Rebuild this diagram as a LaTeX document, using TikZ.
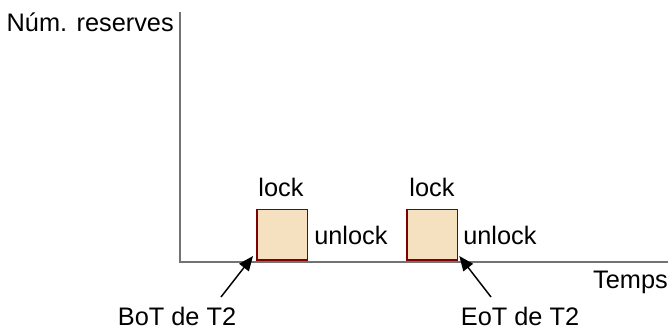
\documentclass[tikz,border=0pt]{standalone}
\usepackage{fontspec}
\setmainfont{Liberation Sans}
\usetikzlibrary{arrows.meta}
\begin{document}
\begin{tikzpicture}[x=0.75pt,y=-0.75pt,
  axis/.style={draw=black!55,line width=1.5pt},
  resbox/.style={draw=red!50!black,fill={rgb,255:red,245;green,224;blue,192},line width=1.2pt,minimum width=38pt,minimum height=38pt,inner sep=0pt},
  lbl/.style={font=\fontsize{19}{21}\selectfont,inner sep=0pt},
  arr/.style={draw=black,line width=1.1pt,-{Triangle[length=11pt,width=9pt]}}]
\useasboundingbox (0,0) rectangle (672,329);
\coordinate (top) at (180,12);
\coordinate (origin) at (180,262);
\coordinate (xend) at (668,262);
\node[resbox,anchor=south west] (b1) at (256,261) {};
\node[resbox,anchor=south west] (b2) at (406,261) {};
\draw[axis] (top) -- (origin) -- (xend);
\node[lbl,anchor=east] (ylab) at (174,22) {Núm. reserves};
\node[lbl,anchor=east] (xlab) at (668,282) {Temps};
\node[lbl] (l1) at (281,187) {lock};
\node[lbl] (l2) at (432,187) {lock};
\node[lbl,anchor=west] (u1) at (314,235) {unlock};
\node[lbl,anchor=west] (u2) at (463,235) {unlock};
\node[lbl] (bot) at (177,316) {BoT de T2};
\node[lbl] (eot) at (520,316) {EoT de T2};
\coordinate (bs) at (221,297);
\coordinate (es) at (491,297);
\draw[arr] (bs) -- ([shift={(-3,-5)}]b1.south west);
\draw[arr] (es) -- ([shift={(1,-5)}]b2.south east);
\end{tikzpicture}
\end{document}
